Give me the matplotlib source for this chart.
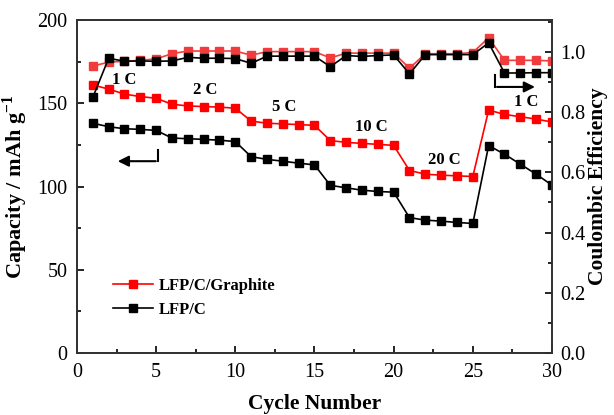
import matplotlib
matplotlib.use("Agg")
import matplotlib.pyplot as plt
from matplotlib.ticker import MultipleLocator

plt.rcParams['font.family'] = ['Liberation Serif', 'DejaVu Serif']
plt.rcParams['mathtext.fontset'] = 'custom'
plt.rcParams['mathtext.rm'] = 'Liberation Serif'
plt.rcParams['mathtext.bf'] = 'Liberation Serif:bold'

cycles = list(range(1, 31))

# discharge capacity (mAh/g)
cap_graphite = [161, 158.5, 155.5, 154, 153, 149.4, 148.4, 148, 147.7, 147,
                139.3, 138, 137.6, 137.2, 136.7, 127.6, 126.5, 125.9, 125.3, 124.7,
                109.6, 107.4, 106.8, 106.4, 106, 145.9, 143.3, 141.9, 140.5, 138.7]
cap_lfpc = [138, 135.9, 134.7, 134.3, 133.7, 129.1, 128.7, 128.3, 127.8, 127,
            117.9, 116.3, 115.2, 114, 113, 100.7, 99.2, 97.8, 97, 96.6,
            81.3, 79.8, 79.2, 78.4, 77.8, 124.6, 119.4, 113.4, 107.4, 100.8]

# coulombic efficiency
ce_graphite = [0.953, 0.966, 0.969, 0.972, 0.977, 0.994, 1.003, 1.003, 1.003, 1.003,
               0.989, 1.001, 1.001, 1.001, 1.001, 0.980, 0.996, 0.996, 0.996, 0.996,
               0.946, 0.994, 0.994, 0.994, 0.998, 1.047, 0.972, 0.972, 0.972, 0.970]
ce_lfpc = [0.849, 0.979, 0.969, 0.970, 0.969, 0.970, 0.982, 0.979, 0.979, 0.978,
           0.962, 0.986, 0.986, 0.986, 0.986, 0.951, 0.988, 0.985, 0.988, 0.990,
           0.927, 0.991, 0.991, 0.991, 0.991, 1.030, 0.930, 0.930, 0.931, 0.931]

rate_labels = ['1 C', '2 C', '5 C', '10 C', '20 C', '1 C']
rate_pos = [(3.0, 164), (8.1, 158), (13.1, 148), (18.6, 136), (23.2, 116), (28.4, 151)]

fig = plt.figure(figsize=(6.14, 4.15), dpi=100)
ax = fig.add_axes([0.1254, 0.1494, 0.7736, 0.8024])
ax2 = ax.twinx()

red = '#ff0000'
mk = dict(marker='s', markersize=5.5, linewidth=1.2)
ax.plot(cycles, cap_graphite, color=red, label='LFP/C/Graphite', **mk)
ax.plot(cycles, cap_lfpc, color='black', label='LFP/C', **mk)
ax2.plot(cycles, ce_graphite, color='#f03c3c', **mk)
ax2.plot(cycles, ce_lfpc, color='black', **mk)

ax.set_xlim(0, 30)
ax.set_ylim(0, 200)
ax2.set_ylim(0, 1.106)

ax.xaxis.set_major_locator(MultipleLocator(5))
ax.xaxis.set_minor_locator(MultipleLocator(2.5))
ax.yaxis.set_major_locator(MultipleLocator(50))
ax.yaxis.set_minor_locator(MultipleLocator(25))
ax2.yaxis.set_major_locator(MultipleLocator(0.2))
ax2.yaxis.set_minor_locator(MultipleLocator(0.1))
ax2.yaxis.set_major_formatter(plt.FuncFormatter(lambda v, p: '%.1f' % v))

for a in (ax, ax2):
    a.tick_params(which='both', direction='in', labelsize=14.5, width=1.2, pad=7)
    a.tick_params(which='major', length=5)
    a.tick_params(which='minor', length=3)
    for s in a.spines.values():
        s.set_linewidth(1.3)
        s.set_color('#333333')
ax2.tick_params(axis='y', pad=6)

ax.set_xlabel('Cycle Number', fontsize=15.5, fontweight='bold', labelpad=9)
ax.set_ylabel('Capacity / mAh g$^{\\mathbf{-1}}$', fontsize=16, fontweight='bold', labelpad=5)
ax2.set_ylabel('Coulombic Efficiency', fontsize=15.5, fontweight='bold', labelpad=2)

for t, (x, y) in zip(rate_labels, rate_pos):
    ax.text(x, y, t, fontsize=12, fontweight='bold', ha='center', va='center')

# arrows pointing to the axis each group belongs to
ax.plot([5.1, 5.1], [121.8, 115.2], color='black', lw=1.5)
ax.annotate('', xy=(2.4, 115.2), xytext=(5.15, 115.2),
            arrowprops=dict(arrowstyle='-|>', color='black', lw=1.5, mutation_scale=16))
ax.plot([26.4, 26.4], [166.9, 159.8], color='black', lw=1.5)
ax.annotate('', xy=(29.1, 159.8), xytext=(26.35, 159.8),
            arrowprops=dict(arrowstyle='-|>', color='black', lw=1.5, mutation_scale=16))

ax.legend(loc='upper left', bbox_to_anchor=(0.045, 0.27), frameon=False,
          prop={'weight': 'bold', 'size': 12}, handlelength=2.35,
          handletextpad=0.35, labelspacing=0.45)

fig.savefig('out.png', dpi=100)
